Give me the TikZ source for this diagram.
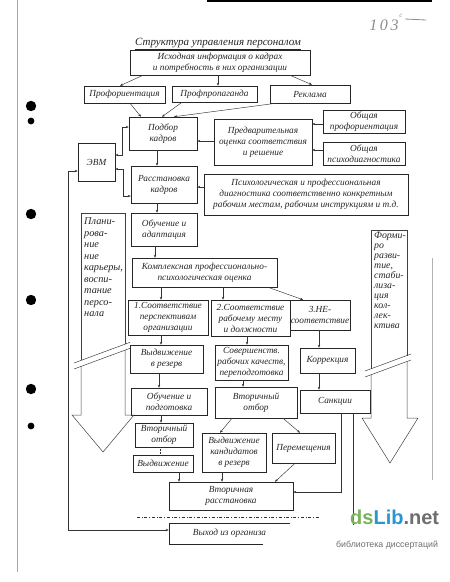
\documentclass[tikz,border=0pt]{standalone}
\usepackage{fontspec}
\setmainfont{Liberation Serif}
\newfontfamily\wmfont{Liberation Sans}
\usetikzlibrary{arrows.meta}
\definecolor{dsgreen}{RGB}{120,178,90}
\definecolor{dsblue}{RGB}{40,150,210}
\definecolor{dsgray}{RGB}{110,110,110}
\begin{document}
\begin{tikzpicture}[x=1pt,y=-1pt,
  box/.style={draw=black!85, line width=0.5pt, inner sep=1pt, align=center,
    font=\itshape\fontsize{9.3}{11}\selectfont, text=black!85},
  arr/.style={draw=black!80, line width=0.45pt, -{Stealth[length=3pt,width=2.4pt]}},
  biarr/.style={draw=black!80, line width=0.45pt, {Stealth[length=3pt,width=2.4pt]}-{Stealth[length=3pt,width=2.4pt]}},
  ln/.style={draw=black!80, line width=0.45pt},
  bigarr/.style={draw=black!75, line width=0.5pt},
  vtxt/.style={align=left, text=black!85, inner sep=0pt}
]
\useasboundingbox (0,0) rectangle (450,582);

% scan marks
\draw[black!35, line width=0.6pt] (17,0) -- (17,572);
\draw[black!30, line width=0.6pt] (432,258) -- (432,480);
\draw[black, line width=3pt] (207,0.5) -- (432,0.5);
\foreach \y/\r in {106/5.2,121/3.4,214/5.2,300/5.2,389/5.2,426/3.4} \fill (31,\y) circle (\r);
\node[text=black!45, font=\itshape\fontsize{16}{16}\selectfont] at (384,25) {1\,0\,3};
\node[text=black!45, font=\itshape\fontsize{7}{7}\selectfont] at (401,16) {c};
\draw[black!45, line width=0.8pt] (405,19) -- (426,20);

% title
\node[font=\itshape\fontsize{11}{13}\selectfont, text=black!85] (title) at (218,44) {\underline{Структура управления персоналом}};

% boxes
\node[box, minimum width=180pt, minimum height=25pt] (isx) at (220,62.5) {Исходная информация о кадрах\\и потребность в них организации};
\node[box, minimum width=81pt, minimum height=17pt] (prof) at (124.5,94.5) {Профориентация};
\node[box, minimum width=85pt, minimum height=16pt] (propag) at (214.5,94) {Профпропаганда};
\node[box, minimum width=80pt, minimum height=18pt] (reklama) at (310,94) {Реклама};
\node[box, minimum width=68pt, minimum height=33pt] (podbor) at (163,133.5) {Подбор\\кадров};
\node[box, minimum width=37pt, minimum height=38pt] (evm) at (96.5,162) {ЭВМ};
\node[box, minimum width=98pt, minimum height=46pt] (predv) at (263,142) {Предварительная\\оценка соответствия\\и решение};
\node[box, minimum width=82pt, minimum height=23pt] (obprof) at (364,121.5) {Общая\\профориентация};
\node[box, minimum width=82pt, minimum height=23pt] (obpsy) at (364,153.5) {Общая\\психодиагностика};
\node[box, minimum width=66pt, minimum height=37pt] (rasst) at (164,184.5) {Расстановка\\кадров};
\node[box, minimum width=204pt, minimum height=41pt] (psy) at (306,194.5) {Психологическая и профессиональная\\диагностика соответственно конкретным\\рабочим местам, рабочим инструкциям и т.д.};
\node[box, minimum width=66pt, minimum height=33pt] (obuch) at (164,229.5) {Обучение и\\адаптация};
\node[box, minimum width=145pt, minimum height=29pt] (kompl) at (204.5,272.5) {Комплексная профессионально-\\психологическая оценка};
\node[box, minimum width=80pt, minimum height=35pt] (s1) at (168,317.5) {1.Соответствие\\перспективам\\организации};
\node[box, minimum width=79pt, minimum height=36pt] (s2) at (250.5,318) {2.Соответствие\\рабочему месту\\и должности};
\node[box, minimum width=56pt, minimum height=30pt] (s3) at (320,315) {3.НЕ-\\соответствие};
\node[box, minimum width=73pt, minimum height=28pt] (vydv) at (166.5,359) {Выдвижение\\в резерв};
\node[box, minimum width=73pt, minimum height=35pt] (sover) at (251.5,362.5) {Совершенств.\\рабочих качеств,\\переподготовка};
\node[box, minimum width=55pt, minimum height=25pt] (korr) at (327.5,360.5) {Коррекция};
\node[box, minimum width=76pt, minimum height=27pt] (obpod) at (169,401.5) {Обучение и\\подготовка};
\node[box, minimum width=82pt, minimum height=31pt] (votb) at (256,402.5) {Вторичный\\отбор};
\node[box, minimum width=70pt, minimum height=23pt] (sank) at (335,401.5) {Санкции};
\node[box, minimum width=58pt, minimum height=24pt] (votb2) at (164,435) {Вторичный\\отбор};
\node[box, minimum width=64pt, minimum height=39pt] (vkand) at (234,452.5) {Выдвижение\\кандидатов\\в резерв};
\node[box, minimum width=63pt, minimum height=30pt] (perem) at (303.5,448) {Перемещения};
\node[box, minimum width=60pt, minimum height=17pt] (vydv2) at (163,463.5) {Выдвижение};
\node[box, minimum width=124pt, minimum height=28pt] (vrass) at (231,496) {Вторичная\\расстановка};
\node[box, draw=none, minimum width=121pt, minimum height=21pt] (vyhod) at (229.5,533.5) {Выход из организа};
\draw[draw=black!85, line width=0.5pt] (vyhod.north east) -- (vyhod.north west) -- (vyhod.south west) -- ([xshift=-27pt]vyhod.south east);

% connectors
\draw[arr] (isx.south -| 143,0) -- (prof.north -| 120,0);
\draw[arr] (isx.south -| 218,0) -- (propag.north -| 218,0);
\draw[arr] (isx.south -| 290,0) -- (reklama.north -| 312,0);
\draw[arr] (prof.south -| 130,0) -- (podbor.north -| 141,0);
\draw[arr] (propag.south -| 182,0) -- (podbor.north -| 162,0);
\draw[arr] (reklama.south -| 276,0) -- (podbor.north -| 174,0);
\draw[arr] (predv.west |- 0,141) -- (podbor.east |- 0,141);
\draw[arr] (obprof.west |- 0,124) -- (predv.east |- 0,124);
\draw[arr] (obpsy.west |- 0,150) -- (predv.east |- 0,150);
\draw[arr] (podbor.south -| 157,0) -- (rasst.north -| 157,0);
\draw[biarr] (evm.east |- 0,155) -- (122,155) -- (122,127) -- (podbor.west |- 0,127);
\draw[biarr] (evm.east |- 0,169) -- (123,169) -- (123,196) -- (rasst.west |- 0,196);
\coordinate (lc1) at (68,171);
\coordinate (lc2) at (68,530);
\draw[biarr] (evm.west |- 0,171) -- (lc1) -- (lc2) -- (vyhod.west |- 0,530);
\draw[arr] (psy.west |- 0,187) -- (rasst.east |- 0,187);
\draw[arr] (rasst.south -| 157,0) -- (obuch.north -| 157,0);
\draw[arr] (obuch.south -| 155,0) -- (kompl.north -| 155,0);
\draw[arr] (kompl.south -| 161,0) -- (s1.north -| 161,0);
\draw[arr] (kompl.south -| 223,0) -- (s2.north -| 223,0);
\draw[arr] (kompl.south -| 268,0) -- (s3.north -| 303,0);
\draw[arr] (s1.south -| 161,0) -- (vydv.north -| 161,0);
\draw[arr] (s2.south -| 247,0) -- (sover.north -| 247,0);
\draw[arr] (s3.south -| 319,0) -- (korr.north -| 319,0);
\draw[arr] (vydv.south -| 159,0) -- (obpod.north -| 159,0);
\draw[arr] (sover.south -| 243,0) -- (votb.north -| 243,0);
\draw[arr] (korr.south -| 319,0) -- (sank.north -| 319,0);
\draw[arr] (obpod.south -| 161,0) -- (votb2.north -| 161,0);
\draw[arr] (votb.south -| 232,0) -- (vkand.north -| 220,0);
\draw[arr] (votb.south -| 283,0) -- (perem.north -| 300,0);
\draw[ln, densely dotted] (votb2.south -| 160,0) -- (vydv2.north -| 160,0);
\draw[arr] (vydv2.south -| 179,0) -- (vrass.north -| 179,0);
\draw[arr] (vkand.south -| 222,0) -- (vrass.north -| 222,0);
\draw[arr] (perem.south -| 295,0) -- (vrass.north -| 275,0);
\draw[arr] (sank.south -| 341,0) -- (341,492) -- (vrass.east |- 0,492);
\coordinate (sk) at (353,525);
\draw[ln] (sank.south -| 353,0) -- (sk);
\draw[ln, dash dot] (137,517) -- (320,517);

% left big arrow
\draw[bigarr] (81,360.4) -- (81,213) -- (125,213) -- (125,344.1);
\draw[bigarr] (74,363) -- (130,342.3);
\draw[bigarr] (74,369) -- (130,348.3);
\draw[bigarr] (81,366.4) -- (81,415) -- (72,415) -- (103,452) -- (134,415) -- (125,415) -- (125,350.1);
\node[vtxt, anchor=north west, font=\itshape\fontsize{10.3}{11.5}\selectfont] at (84,218) {Плани-\\рова-\\ние\\ние\\карьеры,\\воспи-\\тание\\персо-\\нала};

% right big arrow
\draw[bigarr] (371,368.8) -- (371,230) -- (407,230) -- (407,355.5);
\draw[bigarr] (365,371) -- (411,354);
\draw[bigarr] (365,377) -- (411,360);
\draw[bigarr] (371,374.8) -- (371,418) -- (362,418) -- (390,463) -- (418,418) -- (407,418) -- (407,361.5);
\node[vtxt, anchor=north west, font=\itshape\fontsize{9.8}{10}\selectfont] at (374,232) {Форми-\\ро\\разви-\\тие,\\стаби-\\лиза-\\ция\\кол-\\лек-\\ктива};

% watermark
\node[anchor=west, inner sep=0pt, font=\wmfont\bfseries\fontsize{20}{20}\selectfont] (wm) at (350,517) {\textcolor{dsgreen}{ds}\textcolor{dsblue}{Lib}\textcolor{dsgray}{.net}};
\node[anchor=west, inner sep=0pt, text=dsgray, font=\wmfont\fontsize{8.8}{9}\selectfont] (wm2) at (336,545) {библиотека диссертаций};
\end{tikzpicture}
\end{document}
